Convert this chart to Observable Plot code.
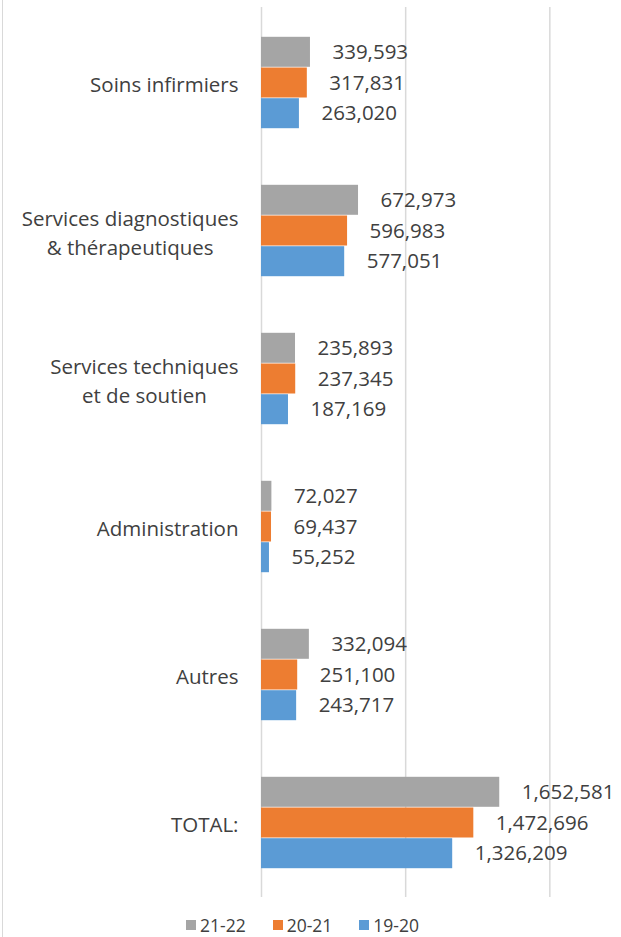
<!DOCTYPE html>
<html>
<head>
<meta charset="utf-8">
<script src="https://cdn.jsdelivr.net/npm/d3@7"></script>
<script src="https://cdn.jsdelivr.net/npm/@observablehq/plot@0.6"></script>
<style>
  html, body { margin: 0; padding: 0; background: #fff; }
  #wrap { position: relative; width: 621px; height: 937px; overflow: hidden; font-family: "Open Sans", sans-serif; color: #404040; }
  #border { position: absolute; left: 2px; top: 0; width: 1px; height: 937px; background: #d9d9d9; }
  #legend { position: absolute; top: 914px; left: 186px; display: flex; gap: 27px; font-size: 17.5px; line-height: 22px; }
  #legend .item { display: flex; align-items: center; gap: 4px; }
  #legend .sw { width: 10px; height: 10px; display: inline-block; }
</style>
</head>
<body>
<div id="wrap"><div id="border"></div><div id="chart"></div><div id="legend"></div></div>
<script>
const categories = ["Soins infirmiers", "Services diagnostiques\n& thérapeutiques", "Services techniques\net de soutien", "Administration", "Autres", "TOTAL:"];
const series = ["21-22", "20-21", "19-20"];
const values2122 = [339593, 672973, 235893, 72027, 332094, 1652581];
const values2021 = [317831, 596983, 237345, 69437, 251100, 1472696];
const values1920 = [263020, 577051, 187169, 55252, 243717, 1326209];
const colors = ["#A5A5A5", "#ED7D31", "#5B9BD5"];
const gridTicks = [0, 1000000, 2000000];

const allValues = [values2122, values2021, values1920];
const W = 621, H = 905, mT = 7, mB = 8, mL = 261, mR = 14;
const yScaleOpts = {type: "band", domain: categories, paddingInner: 0.793, paddingOuter: 0.3966};
const yScale = Plot.scale({y: {...yScaleOpts, range: [mT, H - mB]}});
const bw = yScale.bandwidth;
const fmt = d3.format(",");
const FS = 20.5;

const marks = [Plot.ruleX(gridTicks, {stroke: "#d9d9d9", strokeWidth: 1.5})];
series.forEach((s, i) => {
  const data = categories.map((c, j) => ({cat: c, value: allValues[i][j], series: s}));
  const off = (i - 1) * bw;
  marks.push(Plot.barX(data, {x: "value", y: "cat", fill: colors[i], dy: off, insetTop: 0.5, insetBottom: 0.5}));
  marks.push(Plot.text(data, {x: "value", y: "cat", text: d => fmt(d.value), dx: 22, dy: off, textAnchor: "start", fontSize: FS, fill: "#404040"}));
});
marks.push(Plot.axisY({tickSize: 0, tickPadding: 23, fontSize: FS, color: "#404040", lineHeight: 1.42}));

const chart = Plot.plot({
  width: W, height: H,
  marginTop: mT, marginBottom: mB, marginLeft: mL, marginRight: mR,
  style: {fontFamily: "Open Sans, sans-serif", fontSize: FS + "px", color: "#404040", background: "transparent", overflow: "visible"},
  x: {domain: [0, 2400000], axis: null},
  y: {...yScaleOpts, label: null},
  marks
});
document.getElementById("chart").appendChild(chart);

// center multi-line category labels as in the reference
chart.querySelectorAll("g[aria-label='y-axis tick label'] text").forEach(t => {
  const tspans = t.querySelectorAll("tspan");
  if (tspans.length > 1) {
    const w = t.getBBox().width;
    t.setAttribute("text-anchor", "middle");
    tspans.forEach(ts => ts.setAttribute("x", String(-w / 2)));
  }
});

const legend = document.getElementById("legend");
series.forEach((s, i) => {
  const it = document.createElement("div");
  it.className = "item";
  it.innerHTML = `<span class="sw" style="background:${colors[i]}"></span><span>${s}</span>`;
  legend.appendChild(it);
});
</script>
</body>
</html>
